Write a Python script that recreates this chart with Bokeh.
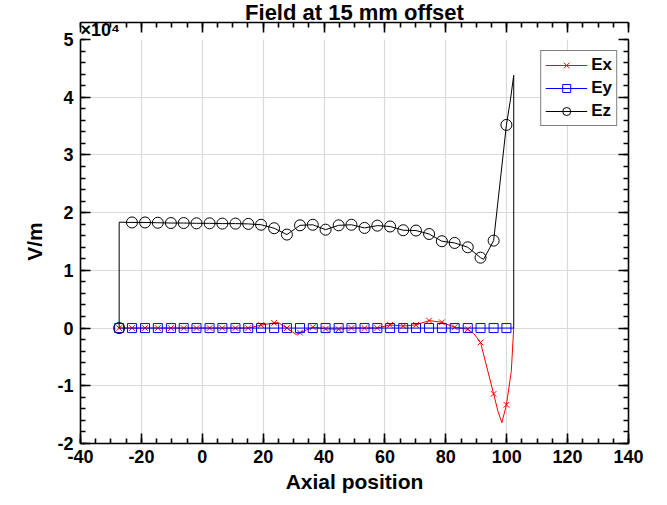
from bokeh.plotting import figure
from bokeh.models import Range1d, SingleIntervalTicker, LinearAxis, Title
from bokeh.embed import file_html
from bokeh.resources import INLINE

# ---------------- text ----------------
title_text = "Field at 15 mm offset"
x_label = "Axial position"
y_label = "V/m"
y_scale_text = "×10⁴"

x_tick_values = [-40, -20, 0, 20, 40, 60, 80, 100, 120, 140]
x_tick_labels = ["-40", "-20", "0", "20", "40", "60", "80", "100", "120", "140"]
y_tick_values = [-20000, -10000, 0, 10000, 20000, 30000, 40000, 50000]
y_tick_labels = ["-2", "-1", "0", "1", "2", "3", "4", "5"]

# ---------------- data ----------------
marker_pos = [-27.3, -23.1, -18.8, -14.6, -10.3, -6.1, -1.9, 2.4, 6.6, 10.9,
              15.1, 19.3, 23.6, 27.8, 32.1, 36.3, 40.5, 44.8, 49.0, 53.3,
              57.5, 61.7, 66.0, 70.2, 74.5, 78.7, 82.9, 87.2, 91.4, 95.7, 99.9]

ex_marker_vals = [0, 0, 0, 0, 0, 0, 0, 0, 0, 0,
                  0, 500, 900, 0, -800, 150, -150, -200, 0, 0,
                  0, 550, 350, 550, 1300, 1000, 150, -200, -2500, -11400, -13300]

ey_marker_vals = [0, 0, 0, 0, 0, 0, 0, 0, 0, 0,
                  0, 0, 0, 0, 0, 0, 0, 0, 0, 0,
                  0, 0, 0, 0, 0, 0, 0, 0, 0, 0, 0]

ez_marker_vals = [0, 18300, 18300, 18250, 18200, 18200, 18150, 18150, 18100, 18100,
                  18050, 17900, 17300, 16200, 17800, 17900, 17050, 17800, 17900, 17350,
                  17750, 17600, 16950, 16900, 16300, 15050, 14750, 14000, 12200, 15150, 35200]

ex_line_pos = [-27.3, -23.1, -18.8, -14.6, -10.3, -6.1, -1.9, 2.4, 6.6, 10.9,
               15.1, 19.3, 23.6, 25.0, 27.8, 30.8, 32.1, 36.3, 40.5, 44.8, 49.0, 53.3,
               57.5, 61.7, 66.0, 70.2, 74.5, 78.7, 82.9, 87.2, 89.2, 91.4, 95.7, 97.1,
               98.4, 99.9, 101.5, 102.3]
ex_line_vals = [0, 0, 0, 0, 0, 0, 0, 0, 0, 0,
                0, 500, 900, 950, 0, -1100, -800, 150, -150, -200, 0, 0,
                0, 550, 350, 550, 1300, 1000, 150, -200, -950, -2500, -11400, -14400,
                -16400, -13300, -7500, 0]

ey_line_pos = [-27.3, 102.3]
ey_line_vals = [0, 0]

ez_line_pos = [-27.3, -27.3, -23.1, -18.8, -14.6, -10.3, -6.1, -1.9, 2.4, 6.6, 10.9,
               15.1, 19.3, 23.6, 27.8, 32.1, 36.3, 40.5, 44.8, 49.0, 53.3,
               57.5, 61.7, 66.0, 70.2, 74.5, 78.7, 82.9, 87.2, 91.4, 92.4, 95.7, 99.9,
               101.2, 102.3, 102.3]
ez_line_vals = [0, 18350, 18300, 18300, 18250, 18200, 18200, 18150, 18150, 18100, 18100,
                18050, 17900, 17300, 16200, 17800, 17900, 17050, 17800, 17900, 17350,
                17750, 17600, 16950, 16900, 16300, 15050, 14750, 14000, 12200, 11900, 15150, 35200,
                39500, 43800, 0]

FONT = "Liberation Sans"

p = figure(width=667, height=505,
           x_range=Range1d(-40, 140), y_range=Range1d(-20000, 50000),
           output_backend="svg", toolbar_location=None,
           min_border_left=80, min_border_right=39,
           min_border_top=0, min_border_bottom=62)

p.background_fill_color = "white"
p.border_fill_color = "white"
p.outline_line_color = None

# main title (outermost panel)
p.title.text = title_text
p.title.align = "center"
p.title.vertical_align = "bottom"
p.title.text_font = FONT
p.title.text_font_size = "22px"
p.title.text_font_style = "bold"
p.title.text_color = "black"
p.title.standoff = -5

# x10^4 multiplier (second title line, left aligned, overlapping upward)
p.add_layout(Title(text=y_scale_text, align="left", vertical_align="top",
                   text_font=FONT, text_font_size="18px", text_font_style="bold",
                   text_color="black", standoff=-5), "above")

bottom_ax = p.below[0]
left_ax = p.left[0]
top_ax = LinearAxis()
right_ax = LinearAxis()
p.add_layout(top_ax, "above")
p.add_layout(right_ax, "right")

for ax in (bottom_ax, top_ax):
    ax.ticker = SingleIntervalTicker(interval=20, num_minor_ticks=4)
for ax in (left_ax, right_ax):
    ax.ticker = SingleIntervalTicker(interval=10000, num_minor_ticks=5)

for ax in (bottom_ax, top_ax, left_ax, right_ax):
    ax.axis_line_color = "black"
    ax.axis_line_width = 1.6
    ax.major_tick_line_color = "black"
    ax.major_tick_line_width = 1.6
    ax.minor_tick_line_color = "black"
    ax.minor_tick_line_width = 1.6
    ax.major_tick_in = 10
    ax.major_tick_out = 0
    ax.minor_tick_in = 5
    ax.minor_tick_out = 0
    ax.major_label_text_font = FONT
    ax.major_label_text_font_style = "bold"
    ax.major_label_text_font_size = "18px"
    ax.major_label_text_color = "black"
    ax.axis_label_text_font = FONT
    ax.axis_label_text_font_style = "bold"
    ax.axis_label_text_font_size = "21px"
    ax.axis_label_text_color = "black"

for ax in (top_ax, right_ax):
    ax.major_label_text_font_size = "0px"
    ax.major_label_text_color = None
    ax.major_label_standoff = 0

bottom_ax.axis_label = x_label
left_ax.axis_label = y_label
bottom_ax.major_label_standoff = 6
left_ax.major_label_standoff = 7
bottom_ax.axis_label_standoff = 4
left_ax.axis_label_standoff = 8
bottom_ax.major_label_overrides = {v: t for v, t in zip(x_tick_values, x_tick_labels)}
left_ax.major_label_overrides = {v: t for v, t in zip(y_tick_values, y_tick_labels)}

for g in (p.xgrid[0], p.ygrid[0]):
    g.grid_line_color = "#dadada"
    g.grid_line_width = 1.2
p.xgrid[0].ticker = bottom_ax.ticker
p.ygrid[0].ticker = left_ax.ticker

# series
p.line(ex_line_pos, ex_line_vals, line_color="#ff0000", line_width=1, legend_label="Ex")
p.scatter(marker_pos, ex_marker_vals, marker="x", size=8, line_color="#ff0000",
          line_width=1, legend_label="Ex")
p.line(ey_line_pos, ey_line_vals, line_color="#0000ff", line_width=1, legend_label="Ey")
p.scatter(marker_pos, ey_marker_vals, marker="square", size=9, line_color="#0000ff",
          fill_color=None, line_width=1, legend_label="Ey")
p.line(ez_line_pos, ez_line_vals, line_color="black", line_width=1, legend_label="Ez")
p.scatter(marker_pos, ez_marker_vals, marker="circle", size=11, line_color="black",
          fill_color=None, line_width=1, legend_label="Ez")

lg = p.legend[0]
lg.location = "top_right"
lg.margin = 11
lg.border_line_color = "black"
lg.border_line_width = 1.6
lg.background_fill_color = "white"
lg.background_fill_alpha = 1
lg.label_text_font = FONT
lg.label_text_font_style = "bold"
lg.label_text_font_size = "17px"
lg.label_text_color = "black"
lg.glyph_width = 42
lg.glyph_height = 20
lg.label_height = 20
lg.spacing = 3
lg.padding = 4
lg.label_standoff = 4

open("out.html", "w").write(file_html(p, INLINE))
